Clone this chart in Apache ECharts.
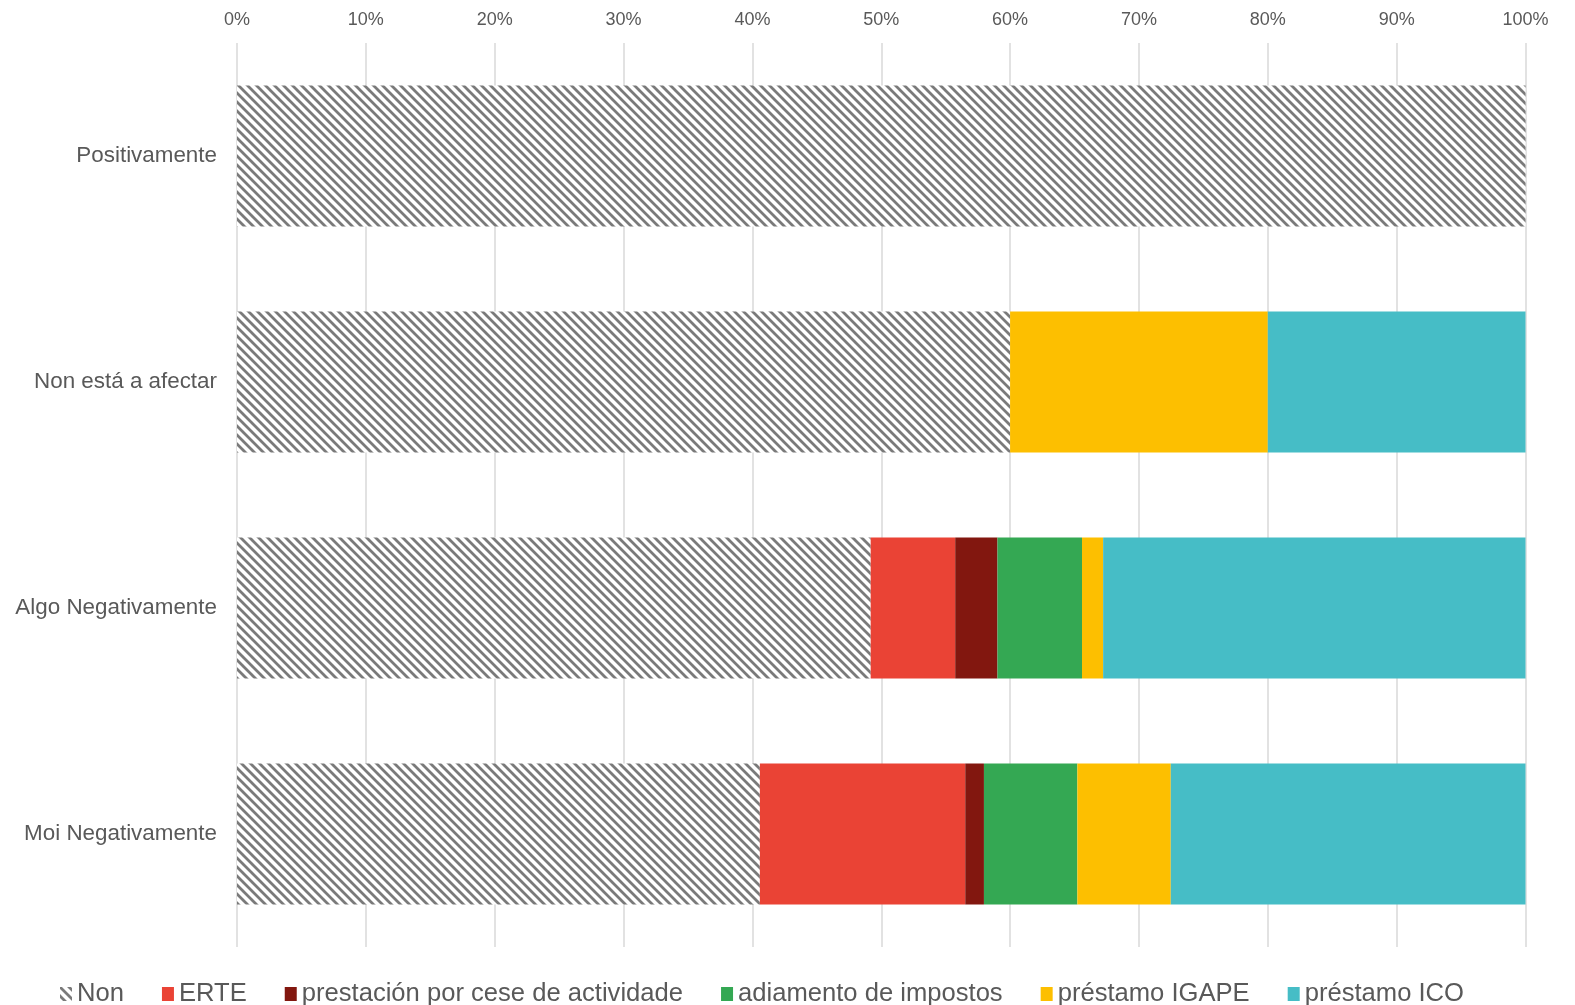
<!DOCTYPE html>
<html>
<head>
<meta charset="utf-8">
<script src="https://cdn.jsdelivr.net/npm/echarts@6/dist/echarts.min.js"></script>
<style>
html,body{margin:0;padding:0;background:#fff;}
#chart{width:1575px;height:1005px;}
</style>
</head>
<body>
<div id="chart"></div>
<script>
const categories = ['Positivamente', 'Non está a afectar', 'Algo Negativamente', 'Moi Negativamente'];
const seriesNames = ['Non', 'ERTE', 'prestación por cese de actividade', 'adiamento de impostos', 'préstamo IGAPE', 'préstamo ICO'];
const nonVals = [100, 60, 49.18, 40.58];
const erteVals = [0, 0, 6.56, 15.94];
const cesaVals = [0, 0, 3.28, 1.45];
const adiamentoVals = [0, 0, 6.56, 7.25];
const igapeVals = [0, 20, 1.64, 7.25];
const icoVals = [0, 20, 32.79, 27.54];
const xTicks = [0, 10, 20, 30, 40, 50, 60, 70, 80, 90, 100];

function hatch() {
  const s = 9;
  const c = document.createElement('canvas');
  c.width = s; c.height = s;
  const g = c.getContext('2d');
  g.fillStyle = '#ffffff';
  g.fillRect(0, 0, s, s);
  g.strokeStyle = '#7a7a7a';
  g.lineWidth = 2.8;
  g.beginPath();
  g.moveTo(-2, -2); g.lineTo(s + 2, s + 2);
  g.moveTo(-2 - s, -2); g.lineTo(2, s + 2);
  g.moveTo(s - 2, -2); g.lineTo(2 * s + 2, s + 2);
  g.stroke();
  return c;
}

const colors = [null, '#ea4335', '#82170f', '#34a853', '#fdbf00', '#46bdc6'];
const valueSets = [nonVals, erteVals, cesaVals, adiamentoVals, igapeVals, icoVals];
const pattern = { image: hatch(), repeat: 'repeat' };

const series = seriesNames.map((name, i) => ({
  name: name,
  type: 'bar',
  stack: 'total',
  barWidth: 141,
  data: valueSets[i],
  itemStyle: { color: i === 0 ? pattern : colors[i] },
  emphasis: { disabled: true }
}));

const chart = echarts.init(document.getElementById('chart'), null, { renderer: 'canvas' });
chart.setOption({
  animation: false,
  backgroundColor: '#ffffff',
  grid: { left: 237, right: 49.5, top: 43, bottom: 58, containLabel: false },
  xAxis: {
    type: 'value',
    position: 'top',
    min: 0, max: 100, interval: 10,
    axisLine: { show: false },
    axisTick: { show: false },
    splitLine: { show: true, lineStyle: { color: '#d9d9d9', width: 1.5 } },
    axisLabel: {
      margin: 14,
      color: '#595959',
      fontFamily: 'Liberation Sans, Arial, sans-serif',
      fontSize: 18,
      formatter: v => (xTicks.includes(v) ? v + '%' : '')
    }
  },
  yAxis: {
    type: 'category',
    inverse: true,
    data: categories,
    axisLine: { show: false },
    axisTick: { show: false },
    axisLabel: {
      margin: 20,
      color: '#595959',
      fontFamily: 'Liberation Sans, Arial, sans-serif',
      fontSize: 22.4
    }
  },
  legend: {
    top: 976,
    left: 55,
    itemWidth: 12,
    itemHeight: 14,
    itemGap: 38,
    icon: 'rect',
    textStyle: {
      color: '#595959',
      fontFamily: 'Liberation Sans, Arial, sans-serif',
      fontSize: 25.6
    },
    data: seriesNames
  },
  series: series
});
</script>
</body>
</html>
